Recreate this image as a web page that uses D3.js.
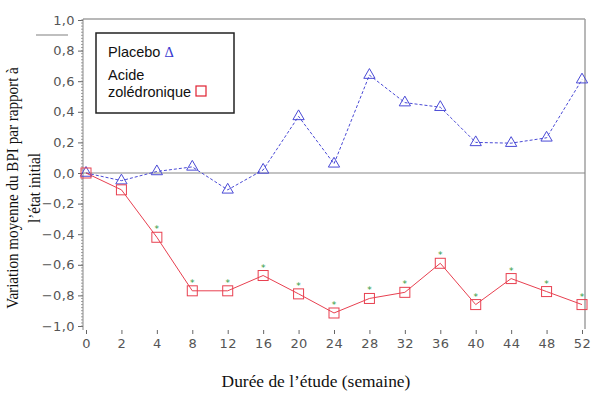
<!DOCTYPE html>
<html><head><meta charset="utf-8">
<script src="https://cdn.jsdelivr.net/npm/d3@7"></script>
<style>body{margin:0;background:#fff}svg{display:block}</style>
</head><body>
<svg id="c" width="605" height="398"></svg>
<script>
const weeks = ["0","2","4","8","12","16","20","24","28","32","36","40","44","48","52"];
const placebo = [0.0,-0.05,0.01,0.04,-0.11,0.02,0.37,0.06,0.64,0.46,0.43,0.20,0.195,0.23,0.61];
const zoledronic = [0.0,-0.11,-0.42,-0.77,-0.77,-0.67,-0.79,-0.915,-0.82,-0.78,-0.59,-0.86,-0.69,-0.775,-0.86];
const significant = [false,false,true,true,true,true,true,true,true,true,true,true,true,true,true];
const yTicks = [1.0,0.8,0.6,0.4,0.2,0.0,-0.2,-0.4,-0.6,-0.8,-1.0];

const svg = d3.select("#c");
const x = d3.scalePoint().domain(weeks).range([86, 582]);
const y = d3.scaleLinear().domain([-1, 1]).range([326, 20]);
const fmt = v => d3.format(".1f")(v).replace(".", ",").replace("-", "\u2212");

// frame
const frame = "#a0a0a0";
svg.append("line").attr("x1",83).attr("x2",585).attr("y1",19).attr("y2",19).attr("stroke",frame).attr("stroke-width",1.5);
svg.append("line").attr("x1",585).attr("x2",585).attr("y1",19).attr("y2",329).attr("stroke",frame).attr("stroke-width",1.5);
svg.append("line").attr("x1",83).attr("x2",585).attr("y1",y(0)).attr("y2",y(0)).attr("stroke","#888").attr("stroke-width",1.2);
svg.append("line").attr("x1",36).attr("x2",68).attr("y1",35).attr("y2",35).attr("stroke","#aaa").attr("stroke-width",1.5);

// y axis
const yAxis = svg.append("g").attr("transform","translate(83,0)")
  .call(d3.axisLeft(y).tickValues(yTicks).tickFormat(fmt).tickSize(5).tickPadding(3));
yAxis.select(".domain").attr("stroke","#888").attr("d","M0,19V330");
yAxis.selectAll(".tick line").attr("stroke","#666");
yAxis.selectAll("text").attr("font-family","DejaVu Sans").attr("font-size",13).attr("letter-spacing",0.4).attr("fill","#555");
const minor = d3.range(-1, 1.0001, 0.02);
svg.append("g").selectAll("line").data(minor).join("line")
  .attr("x1",81).attr("x2",83).attr("y1",d=>y(d)).attr("y2",d=>y(d)).attr("stroke","#888").attr("stroke-width",0.8);

// x axis
const xAxis = svg.append("g").attr("transform","translate(0,330)")
  .call(d3.axisBottom(x).tickSize(4).tickPadding(5));
xAxis.select(".domain").remove();
xAxis.selectAll(".tick line").attr("stroke","#666");
xAxis.selectAll("text").attr("font-family","DejaVu Sans").attr("font-size",13).attr("letter-spacing",0.4).attr("fill","#555");

// titles
svg.append("text").attr("x",316).attr("y",387).attr("text-anchor","middle")
  .attr("font-family","Liberation Serif").attr("font-size",17.4).attr("fill","#111")
  .text("Durée de l\u2019étude (semaine)");
const yt = svg.append("text").attr("transform","translate(0,188) rotate(-90) scale(0.9,1)").attr("text-anchor","middle")
  .attr("font-family","Liberation Serif").attr("font-size",16.8).attr("fill","#111");
yt.append("tspan").attr("x",0).attr("y",18).text("Variation moyenne du BPI par rapport à");
yt.append("tspan").attr("x",0).attr("y",40).text("l\u2019état initial");

// lines
const line = d3.line().x((d,i)=>x(weeks[i])).y(d=>y(d));
svg.append("path").datum(placebo).attr("d",line).attr("fill","none")
  .attr("stroke","#4a4ad6").attr("stroke-width",1).attr("stroke-dasharray","3,2");
svg.append("path").datum(zoledronic).attr("d",line).attr("fill","none")
  .attr("stroke","#e84050").attr("stroke-width",1);

// markers
const tri = d3.symbol().type(d3.symbolTriangle).size(55);
svg.append("g").selectAll("path").data(placebo).join("path")
  .attr("d",tri).attr("transform",(d,i)=>`translate(${x(weeks[i])},${y(d)})`)
  .attr("fill","none").attr("stroke","#4a4ad6").attr("stroke-width",1);
svg.append("g").selectAll("rect").data(zoledronic).join("rect")
  .attr("x",(d,i)=>x(weeks[i])-5).attr("y",d=>y(d)-5).attr("width",10).attr("height",10)
  .attr("fill","none").attr("stroke","#e84050").attr("stroke-width",1);
svg.append("g").selectAll("text").data(zoledronic.map((v,i)=>({v,i})).filter(d=>significant[d.i])).join("text")
  .attr("x",d=>x(weeks[d.i])).attr("y",d=>y(d.v)-5).attr("text-anchor","middle")
  .attr("font-family","DejaVu Sans").attr("font-size",9).attr("fill","#2e9a3e").text("*");

// legend
svg.append("rect").attr("x",96).attr("y",33).attr("width",138).attr("height",80)
  .attr("fill","#fff").attr("stroke","#222").attr("stroke-width",1.5);
const lg = svg.append("g").attr("font-family","Liberation Sans").attr("font-size",14.5).attr("fill","#111");
const t1 = lg.append("text").attr("x",108).attr("y",57);
t1.append("tspan").text("Placebo ");
t1.append("tspan").attr("fill","#3a3ad0").attr("font-family","Liberation Serif").text("\u0394");
lg.append("text").attr("x",108).attr("y",80).text("Acide");
lg.append("text").attr("x",108).attr("y",97).text("zolédronique");
svg.append("rect").attr("x",196).attr("y",86).attr("width",10).attr("height",10)
  .attr("fill","none").attr("stroke","#e02030").attr("stroke-width",1.2);
</script>
</body></html>
